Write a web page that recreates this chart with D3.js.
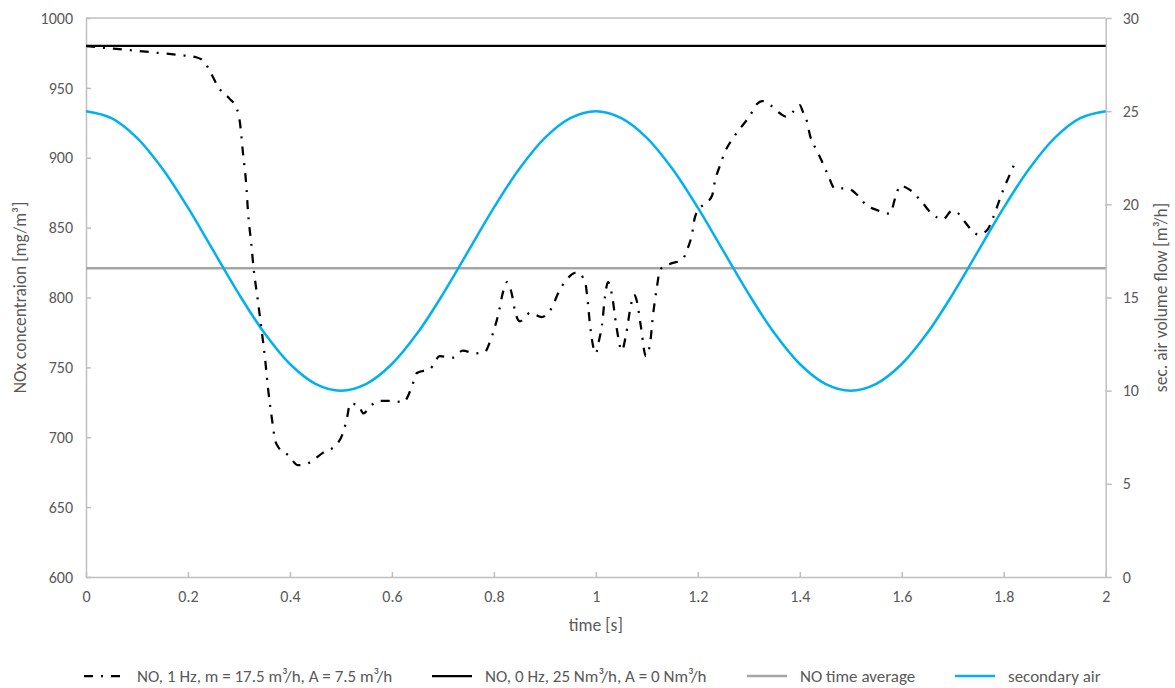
<!DOCTYPE html>
<html>
<head>
<meta charset="utf-8">
<script src="https://cdn.jsdelivr.net/npm/d3@7"></script>
<style>
  html, body { margin: 0; padding: 0; background: #fff; }
  svg text { font-family: Carlito, Lato, "Liberation Sans", sans-serif; fill: #595959; }
</style>
</head>
<body>
<svg id="chart" width="1175" height="688"></svg>
<script>
// NO concentration at 1 Hz pulsation (time in s, value in mg/m³)
const noTime = [0.000,0.033,0.065,0.098,0.131,0.183,0.216,0.232,0.245,0.261,0.281,0.296,0.302,0.308,0.314,0.318,0.324,0.329,0.337,0.345,0.351,0.357,0.364,0.371,0.377,0.397,0.416,0.439,0.465,0.492,0.504,0.512,0.518,0.534,0.544,0.557,0.577,0.603,0.622,0.639,0.649,0.675,0.694,0.720,0.739,0.763,0.782,0.792,0.802,0.810,0.816,0.826,0.836,0.841,0.851,0.857,0.871,0.894,0.904,0.914,0.926,0.941,0.963,0.979,0.983,0.989,1.000,1.006,1.012,1.018,1.024,1.032,1.040,1.051,1.059,1.069,1.075,1.080,1.088,1.098,1.106,1.112,1.120,1.126,1.145,1.169,1.181,1.189,1.194,1.204,1.214,1.228,1.234,1.243,1.253,1.267,1.283,1.302,1.316,1.326,1.342,1.361,1.373,1.387,1.400,1.406,1.414,1.420,1.432,1.444,1.455,1.469,1.493,1.514,1.528,1.551,1.577,1.587,1.597,1.616,1.640,1.659,1.681,1.698,1.708,1.724,1.740,1.750,1.767,1.779,1.789,1.799,1.812,1.825];
const noValue = [980,978.7,977.8,976.6,975.4,973.5,971.9,968.7,960.4,949.7,942.5,935,925,903,882,860,839,820,798,775,757,735,715,698,693,687,680,682,689,695,703,714,724,723,717,722,726,726,725,736,746,749,758,757,762,760,761,768,779,790,801,811,801,791,783,784,789,786,788,793,803,812,818,811,801,779,760,769,780,801,811,801,780,762,773,795,802,798,780,758,766,787,808,820,824,827,836,846,857,864,867,873,884,894,904,913,921,930,938.5,940.6,937.7,931.8,929.4,933,937.7,933,926,916,906,897,888,878,878,873,867,862.6,860,871,880,877,868,860,856,862,861,854,847,845,848,857,867,877,888,899];

// Reference NO level without pulsation and time-averaged NO level (mg/m³)
const noSteadyValue = 980;
const noAverageValue = 821;

// Secondary air volume flow (m³/h), sampled every 0.05 s
const airTime = [0,0.05,0.1,0.15,0.2,0.25,0.3,0.35,0.4,0.45,0.5,0.55,0.6,0.65,0.7,0.75,0.8,0.85,0.9,0.95,1,1.05,1.1,1.15,1.2,1.25,1.3,1.35,1.4,1.45,1.5,1.55,1.6,1.65,1.7,1.75,1.8,1.85,1.9,1.95,2];
const airValue = [25,24.63,23.57,21.91,19.82,17.5,15.18,13.09,11.43,10.37,10,10.37,11.43,13.09,15.18,17.5,19.82,21.91,23.57,24.63,25,24.63,23.57,21.91,19.82,17.5,15.18,13.09,11.43,10.37,10,10.37,11.43,13.09,15.18,17.5,19.82,21.91,23.57,24.63,25];

// Axis ticks
const timeTicks = [0,0.2,0.4,0.6,0.8,1,1.2,1.4,1.6,1.8,2];
const noTicks = [600,650,700,750,800,850,900,950,1000];
const airTicks = [0,5,10,15,20,25,30];

// Legend entries
const legendLabels = ["NO, 1 Hz, m = 17.5 m³/h, A = 7.5 m³/h", "NO, 0 Hz, 25 Nm³/h, A = 0 Nm³/h", "NO time average", "secondary air"];

const svg = d3.select("#chart");
const plotLeft = 86, plotRight = 1105.7, plotTop = 18, plotBottom = 577;
const axisColor = "#BFBFBF";
const blue = "#00B0F0", grey = "#A5A5A5";
const dashDot = "9,8,2,8";

const x = d3.scaleLinear().domain([0, 2]).range([plotLeft, plotRight]);
const y = d3.scaleLinear().domain([600, 1000]).range([plotBottom, plotTop]);
const y2 = d3.scaleLinear().domain([0, 30]).range([plotBottom, plotTop]);

const fmtTime = d => (d === 0 || d === 1 || d === 2) ? String(d) : d.toFixed(1);
const fmtInt = d3.format("d");

function styleAxis(g) {
  g.select(".domain").attr("stroke", axisColor).attr("stroke-width", 1.5);
  g.selectAll(".tick line").attr("stroke", axisColor).attr("stroke-width", 1.5);
  g.selectAll(".tick text").attr("font-size", 16).attr("fill", "#595959");
}

// top border of plot area
svg.append("line").attr("x1", plotLeft).attr("x2", plotRight).attr("y1", plotTop).attr("y2", plotTop)
  .attr("stroke", axisColor).attr("stroke-width", 1.5);

// left axis (ticks inward)
svg.append("g").attr("transform", `translate(${plotLeft},0)`)
  .call(d3.axisLeft(y).tickValues(noTicks).tickFormat(fmtInt).tickSizeInner(-5).tickSizeOuter(0).tickPadding(13))
  .call(styleAxis);

// right axis (ticks outward)
svg.append("g").attr("transform", `translate(${plotRight},0)`)
  .call(d3.axisRight(y2).tickValues(airTicks).tickFormat(fmtInt).tickSizeInner(6).tickSizeOuter(0).tickPadding(11))
  .call(styleAxis);

// bottom axis (ticks inward)
svg.append("g").attr("transform", `translate(0,${plotBottom})`)
  .call(d3.axisBottom(x).tickValues(timeTicks).tickFormat(fmtTime).tickSizeInner(-5).tickSizeOuter(0).tickPadding(14))
  .call(styleAxis);

// axis titles
svg.append("text").attr("transform", `translate(26,${(plotTop + plotBottom) / 2}) rotate(-90)`)
  .attr("text-anchor", "middle").attr("font-size", 17.5).text("NOx concentraion [mg/m³]");
svg.append("text").attr("transform", `translate(1167,${(plotTop + plotBottom) / 2}) rotate(-90)`)
  .attr("text-anchor", "middle").attr("font-size", 17.5).text("sec. air  volume flow [m³/h]");
svg.append("text").attr("x", (plotLeft + plotRight) / 2).attr("y", 631)
  .attr("text-anchor", "middle").attr("font-size", 17.5).text("time [s]");

// series
const plot = svg.append("g");

plot.append("line").attr("x1", x(0)).attr("x2", x(2))
  .attr("y1", y(noAverageValue)).attr("y2", y(noAverageValue))
  .attr("stroke", grey).attr("stroke-width", 2.5);

plot.append("line").attr("x1", x(0)).attr("x2", x(2))
  .attr("y1", y(noSteadyValue)).attr("y2", y(noSteadyValue))
  .attr("stroke", "#000").attr("stroke-width", 2.25);

const airLine = d3.line().x(d => x(d[0])).y(d => y2(d[1])).curve(d3.curveCatmullRom);
plot.append("path").datum(airTime.map((t, i) => [t, airValue[i]]))
  .attr("d", airLine).attr("fill", "none").attr("stroke", blue).attr("stroke-width", 2.5);

const noLine = d3.line().x(d => x(d[0])).y(d => y(d[1])).curve(d3.curveMonotoneX);
plot.append("path").datum(noTime.map((t, i) => [t, noValue[i]]))
  .attr("d", noLine).attr("fill", "none").attr("stroke", "#000").attr("stroke-width", 2.25)
  .attr("stroke-dasharray", dashDot);

// legend
const legendY = 676;
const legendX = [84, 432, 747, 955];
const legendStyles = [
  { stroke: "#000", dash: dashDot, w: 2.25 },
  { stroke: "#000", dash: null, w: 2.25 },
  { stroke: grey, dash: null, w: 2.5 },
  { stroke: blue, dash: null, w: 2.5 }
];
const lg = svg.append("g");
legendLabels.forEach((label, i) => {
  const g = lg.append("g").attr("transform", `translate(${legendX[i]},${legendY})`);
  g.append("line").attr("x1", 0).attr("x2", 40).attr("y1", 0).attr("y2", 0)
    .attr("stroke", legendStyles[i].stroke).attr("stroke-width", legendStyles[i].w)
    .attr("stroke-dasharray", legendStyles[i].dash);
  g.append("text").attr("x", 53).attr("y", 0).attr("dy", "0.35em")
    .attr("font-size", 17).text(label);
});
</script>
</body>
</html>
